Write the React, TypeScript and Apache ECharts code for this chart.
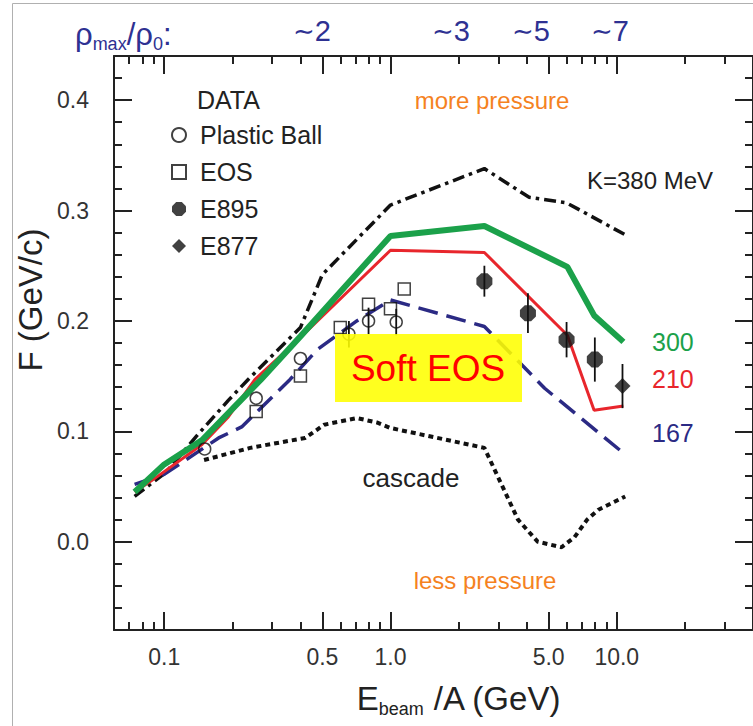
import React, { useEffect, useRef } from 'react';
import * as echarts from 'echarts';

// ---------------- data ----------------
const X_MIN = 0.06;
const X_MAX = 40;
const Y_MIN = -0.08;
const Y_MAX = 0.44;

const xMajorTicks = [0.1, 0.5, 1, 5, 10];
const xMinorTicks = [0.07, 0.08, 0.09, 0.2, 0.3, 0.4, 0.6, 0.7, 0.8, 0.9, 2, 3, 4, 6, 7, 8, 9, 20, 30];
const xLabelValues = [0.1, 0.5, 1, 5, 10];
const xLabelTexts = ['0.1', '0.5', '1.0', '5.0', '10.0'];
const yMajorTicks = [0, 0.1, 0.2, 0.3, 0.4];
const yMinorTicks = [-0.06, -0.04, -0.02, 0.02, 0.04, 0.06, 0.08, 0.12, 0.14, 0.16, 0.18, 0.22, 0.24, 0.26, 0.28, 0.32, 0.34, 0.36, 0.38, 0.42];

// model curves [E_beam/A (GeV), F (GeV/c)]
const modelK380 = [[0.074, 0.041], [0.102, 0.063], [0.138, 0.095], [0.192, 0.128], [0.235, 0.147], [0.4, 0.194], [0.5, 0.242], [1.0, 0.305], [2.6, 0.338], [4.1, 0.312], [6.0, 0.307], [10.9, 0.278]];
const modelK300 = [[0.074, 0.045], [0.1, 0.07], [0.147, 0.092], [0.268, 0.147], [0.4, 0.186], [1.0, 0.277], [2.6, 0.286], [6.05, 0.249], [7.94, 0.205], [10.7, 0.181]];
const modelK210 = [[0.074, 0.045], [0.089, 0.056], [0.147, 0.088], [0.192, 0.113], [0.252, 0.147], [0.4, 0.185], [1.0, 0.264], [2.6, 0.262], [6.05, 0.187], [7.94, 0.119], [10.7, 0.123]];
const modelK167 = [[0.074, 0.052], [0.1, 0.061], [0.174, 0.094], [0.22, 0.104], [0.36, 0.147], [0.475, 0.174], [0.71, 0.2], [1.0, 0.219], [2.6, 0.195], [4.8, 0.139], [10.6, 0.081]];
const modelCascade = [[0.15, 0.074], [0.24, 0.085], [0.42, 0.094], [0.51, 0.106], [0.71, 0.112], [0.87, 0.108], [1.0, 0.103], [2.6, 0.085], [3.66, 0.02], [4.47, 0.0], [5.7, -0.005], [6.5, 0.004], [7.4, 0.02], [8.3, 0.029], [10.9, 0.041]];

// measurements
const plasticBallE = [0.151, 0.255, 0.4, 0.655, 0.8, 1.06];
const plasticBallF = [0.084, 0.13, 0.166, 0.188, 0.2, 0.199];
const plasticBallErr = [0, 0, 0, 0.012, 0.012, 0.012];
const eosE = [0.255, 0.4, 0.6, 0.8, 1.0, 1.15];
const eosF = [0.118, 0.15, 0.194, 0.215, 0.211, 0.229];
const e895E = [2.6, 4.05, 6.0, 8.0];
const e895F = [0.236, 0.207, 0.183, 0.165];
const e895Err = [0.014, 0.018, 0.016, 0.02];
const e877E = [10.6];
const e877F = [0.141];
const e877Err = [0.02];

// ---------------- styling ----------------
const FONT = '"Liberation Sans", Arial, Helvetica, sans-serif';
const TILDE_FONT = '"DejaVu Sans", "Liberation Sans", sans-serif';
const AXIS_COLOR = '#222';
const NAVY = '#2e3192';
const ORANGE = '#f5821f';
const GREEN = '#1ba14a';
const RED = '#e8262c';
const BLUE = '#2b2a84';
const OCTAGON = 'path://M3,0 L7,0 L10,3 L10,7 L7,10 L3,10 L0,7 L0,3 Z';

const lg = (v: number) => Math.log10(v);

function tickX(position: 'top' | 'bottom', values: number[], length: number, withLine: boolean, withLabels: boolean) {
  return {
    type: 'value',
    gridIndex: 0,
    position,
    min: lg(X_MIN),
    max: lg(X_MAX),
    axisLine: { show: withLine, onZero: false, lineStyle: { color: AXIS_COLOR, width: 2 } },
    axisTick: { show: true, inside: true, length, customValues: values.map(lg), lineStyle: { color: AXIS_COLOR, width: 2 } },
    axisLabel: withLabels
      ? {
          show: true,
          customValues: xLabelValues.map(lg),
          margin: 15,
          color: '#333',
          fontSize: 23,
          fontFamily: FONT,
          formatter: (v: number) => {
            let best = 0;
            xLabelValues.forEach((lv, i) => {
              if (Math.abs(lg(lv) - v) < Math.abs(lg(xLabelValues[best]) - v)) best = i;
            });
            return xLabelTexts[best];
          },
        }
      : { show: false },
    splitLine: { show: false },
  };
}

function tickY(position: 'left' | 'right', values: number[], length: number, withLine: boolean, withLabels: boolean) {
  return {
    type: 'value',
    gridIndex: 0,
    position,
    min: Y_MIN,
    max: Y_MAX,
    axisLine: { show: withLine, onZero: false, lineStyle: { color: AXIS_COLOR, width: 2 } },
    axisTick: { show: true, inside: true, length, customValues: values, lineStyle: { color: AXIS_COLOR, width: 2 } },
    axisLabel: withLabels
      ? {
          show: true,
          customValues: yMajorTicks,
          margin: 25,
          color: '#333',
          fontSize: 23,
          fontFamily: FONT,
          formatter: (v: number) => v.toFixed(1),
        }
      : { show: false },
    splitLine: { show: false },
  };
}

function text(t: string, x: number, y: number, size: number, color: string, align = 'left', extra: any = {}) {
  return {
    type: 'text',
    x,
    y,
    z: 100,
    style: {
      text: t,
      fill: color,
      fontSize: size,
      fontFamily: FONT,
      align,
      verticalAlign: 'middle',
      textAlign: align,
      textVerticalAlign: 'middle',
      ...extra,
    },
  };
}

const errData = [
  ...plasticBallE.map((e, i) => [e, plasticBallF[i], plasticBallErr[i]]),
  ...e895E.map((e, i) => [e, e895F[i], e895Err[i]]),
  ...e877E.map((e, i) => [e, e877F[i], e877Err[i]]),
].filter((d) => d[2] > 0);

function buildOption() {
  return {
    animation: false,
    backgroundColor: '#ffffff',
    textStyle: { fontFamily: FONT },
    grid: { left: 114, top: 56, width: 647, height: 574, containLabel: false },
    xAxis: [
      {
        type: 'log',
        logBase: 10,
        gridIndex: 0,
        position: 'bottom',
        min: X_MIN,
        max: X_MAX,
        axisLine: { show: true, onZero: false, lineStyle: { color: AXIS_COLOR, width: 2 } },
        axisTick: { show: false },
        axisLabel: { show: false },
        splitLine: { show: false },
      },
      tickX('bottom', xMajorTicks, 18, false, true),
      tickX('bottom', xMinorTicks, 8, false, false),
      tickX('top', xMajorTicks, 18, true, false),
      tickX('top', xMinorTicks, 8, false, false),
    ],
    yAxis: [
      tickY('left', yMajorTicks, 18, true, true),
      tickY('left', yMinorTicks, 8, false, false),
      tickY('right', yMajorTicks, 18, true, false),
      tickY('right', yMinorTicks, 8, false, false),
    ],
    legend: {
      show: true,
      orient: 'vertical',
      left: 166,
      top: 117,
      itemWidth: 14,
      itemHeight: 14,
      itemGap: 11,
      selectedMode: false,
      data: ['Plastic Ball', 'EOS', 'E895', 'E877'],
      textStyle: { fontSize: 25, fontFamily: FONT, color: '#222', lineHeight: 26, padding: [0, 0, 0, 9] },
    },
    series: [
      {
        name: 'K=380 MeV',
        type: 'line',
        xAxisIndex: 0,
        yAxisIndex: 0,
        data: modelK380,
        symbol: 'none',
        lineStyle: { color: '#111', width: 3.5, type: [12, 5, 3.5, 5] },
        z: 3,
      },
      {
        name: 'cascade',
        type: 'line',
        xAxisIndex: 0,
        yAxisIndex: 0,
        data: modelCascade,
        symbol: 'none',
        lineStyle: { color: '#111', width: 4, type: [5, 4] },
        z: 3,
      },
      {
        name: '167',
        type: 'line',
        xAxisIndex: 0,
        yAxisIndex: 0,
        data: modelK167,
        symbol: 'none',
        lineStyle: { color: BLUE, width: 3.5, type: [20, 9] },
        z: 3,
      },
      {
        name: '210',
        type: 'line',
        xAxisIndex: 0,
        yAxisIndex: 0,
        data: modelK210,
        symbol: 'none',
        lineStyle: { color: RED, width: 3 },
        z: 4,
      },
      {
        name: '300',
        type: 'line',
        xAxisIndex: 0,
        yAxisIndex: 0,
        data: modelK300,
        symbol: 'none',
        lineStyle: { color: GREEN, width: 6 },
        z: 5,
      },
      {
        name: 'errors',
        type: 'custom',
        xAxisIndex: 0,
        yAxisIndex: 0,
        data: errData,
        encode: { x: 0, y: 1 },
        z: 6,
        renderItem: (params: any, api: any) => {
          const x = api.value(0);
          const y = api.value(1);
          const e = api.value(2);
          const p1 = api.coord([x, y - e]);
          const p2 = api.coord([x, y + e]);
          return {
            type: 'line',
            shape: { x1: p1[0], y1: p1[1], x2: p2[0], y2: p2[1] },
            style: { stroke: '#111', lineWidth: 1.8 },
          };
        },
      },
      {
        name: 'Plastic Ball',
        type: 'scatter',
        xAxisIndex: 0,
        yAxisIndex: 0,
        data: plasticBallE.map((e, i) => [e, plasticBallF[i]]),
        symbol: 'circle',
        symbolSize: 12,
        itemStyle: { color: 'rgba(255,255,255,0)', borderColor: '#111', borderWidth: 1.5 },
        z: 7,
      },
      {
        name: 'EOS',
        type: 'scatter',
        xAxisIndex: 0,
        yAxisIndex: 0,
        data: eosE.map((e, i) => [e, eosF[i]]),
        symbol: 'rect',
        symbolSize: 12,
        itemStyle: { color: 'rgba(255,255,255,0)', borderColor: '#111', borderWidth: 1.5 },
        z: 7,
      },
      {
        name: 'E895',
        type: 'scatter',
        xAxisIndex: 0,
        yAxisIndex: 0,
        data: e895E.map((e, i) => [e, e895F[i]]),
        symbol: OCTAGON,
        symbolSize: 16,
        itemStyle: { color: '#111' },
        z: 7,
      },
      {
        name: 'E877',
        type: 'scatter',
        xAxisIndex: 0,
        yAxisIndex: 0,
        data: e877E.map((e, i) => [e, e877F[i]]),
        symbol: 'diamond',
        symbolSize: 16,
        itemStyle: { color: '#111' },
        z: 7,
      },
    ],
    graphic: [
      {
        type: 'rect',
        z: 0,
        silent: true,
        shape: { x: 12.5, y: 3.5, width: 900, height: 900 },
        style: { fill: 'none', stroke: '#b0b0b0', lineWidth: 1 },
      },
      {
        type: 'rect',
        z: 90,
        shape: { x: 335, y: 334, width: 187, height: 68 },
        style: { fill: 'rgba(255,255,0,0.88)' },
      },
      text('Soft EOS', 428, 368, 37, '#ff0000', 'center'),
      text('DATA', 197, 100, 25, '#222'),
      text('more pressure', 492, 100, 24, ORANGE, 'center'),
      text('less pressure', 485, 580, 24, ORANGE, 'center'),
      text('K=380 MeV', 587, 180, 24, '#222'),
      text('300', 652, 342, 25, GREEN),
      text('210', 652, 379, 25, RED),
      text('167', 652, 433, 25, BLUE),
      text('cascade', 411, 478, 26, '#222', 'center'),
      {
        type: 'text',
        x: 30,
        y: 300,
        rotation: Math.PI / 2,
        z: 100,
        style: {
          text: 'F (GeV/c)',
          fill: '#222',
          fontSize: 33,
          fontFamily: FONT,
          align: 'center',
          verticalAlign: 'middle',
          textAlign: 'center',
          textVerticalAlign: 'middle',
        },
      },
      {
        type: 'text',
        x: 459,
        y: 698,
        z: 100,
        style: {
          text: '{b|E}{s|beam}{b| /A (GeV)}',
          fill: '#222',
          fontFamily: FONT,
          align: 'center',
          verticalAlign: 'middle',
          textAlign: 'center',
          textVerticalAlign: 'middle',
          rich: {
            b: { fontSize: 33, lineHeight: 40, verticalAlign: 'middle', fill: '#222', fontFamily: FONT },
            s: { fontSize: 18, lineHeight: 18, verticalAlign: 'bottom', fill: '#222', fontFamily: FONT },
          },
        },
      },
      {
        type: 'text',
        x: 75,
        y: 34,
        z: 100,
        style: {
          text: '{b|ρ}{s|max}{b|/ρ}{s|0}{b|:}',
          fill: NAVY,
          fontFamily: FONT,
          align: 'left',
          verticalAlign: 'middle',
          textAlign: 'left',
          textVerticalAlign: 'middle',
          rich: {
            b: { fontSize: 31, lineHeight: 38, verticalAlign: 'middle', fill: NAVY, fontFamily: FONT },
            s: { fontSize: 18, lineHeight: 18, verticalAlign: 'bottom', fill: NAVY, fontFamily: FONT },
          },
        },
      },
      {
        type: 'text',
        x: 312,
        y: 31,
        z: 100,
        style: {
          text: '{t|∼}{n|2}',
          align: 'center',
          verticalAlign: 'middle',
          textAlign: 'center',
          textVerticalAlign: 'middle',
          rich: {
            t: { fontSize: 26, fontFamily: TILDE_FONT, fill: NAVY },
            n: { fontSize: 29, fontFamily: FONT, fill: NAVY },
          },
        },
      },
      {
        type: 'text',
        x: 451,
        y: 31,
        z: 100,
        style: {
          text: '{t|∼}{n|3}',
          align: 'center',
          verticalAlign: 'middle',
          textAlign: 'center',
          textVerticalAlign: 'middle',
          rich: {
            t: { fontSize: 26, fontFamily: TILDE_FONT, fill: NAVY },
            n: { fontSize: 29, fontFamily: FONT, fill: NAVY },
          },
        },
      },
      {
        type: 'text',
        x: 531,
        y: 31,
        z: 100,
        style: {
          text: '{t|∼}{n|5}',
          align: 'center',
          verticalAlign: 'middle',
          textAlign: 'center',
          textVerticalAlign: 'middle',
          rich: {
            t: { fontSize: 26, fontFamily: TILDE_FONT, fill: NAVY },
            n: { fontSize: 29, fontFamily: FONT, fill: NAVY },
          },
        },
      },
      {
        type: 'text',
        x: 610,
        y: 31,
        z: 100,
        style: {
          text: '{t|∼}{n|7}',
          align: 'center',
          verticalAlign: 'middle',
          textAlign: 'center',
          textVerticalAlign: 'middle',
          rich: {
            t: { fontSize: 26, fontFamily: TILDE_FONT, fill: NAVY },
            n: { fontSize: 29, fontFamily: FONT, fill: NAVY },
          },
        },
      },
    ],
  };
}

export default function App() {
  const ref = useRef<HTMLDivElement>(null);
  useEffect(() => {
    if (!ref.current) return;
    const chart = echarts.init(ref.current, null, { renderer: 'svg' });
    chart.setOption(buildOption() as any);
    return () => chart.dispose();
  }, []);
  return (
    <div
      ref={ref}
      style={{ position: 'absolute', left: 0, top: 0, width: 753, height: 726, background: '#fff', overflow: 'hidden' }}
    />
  );
}
